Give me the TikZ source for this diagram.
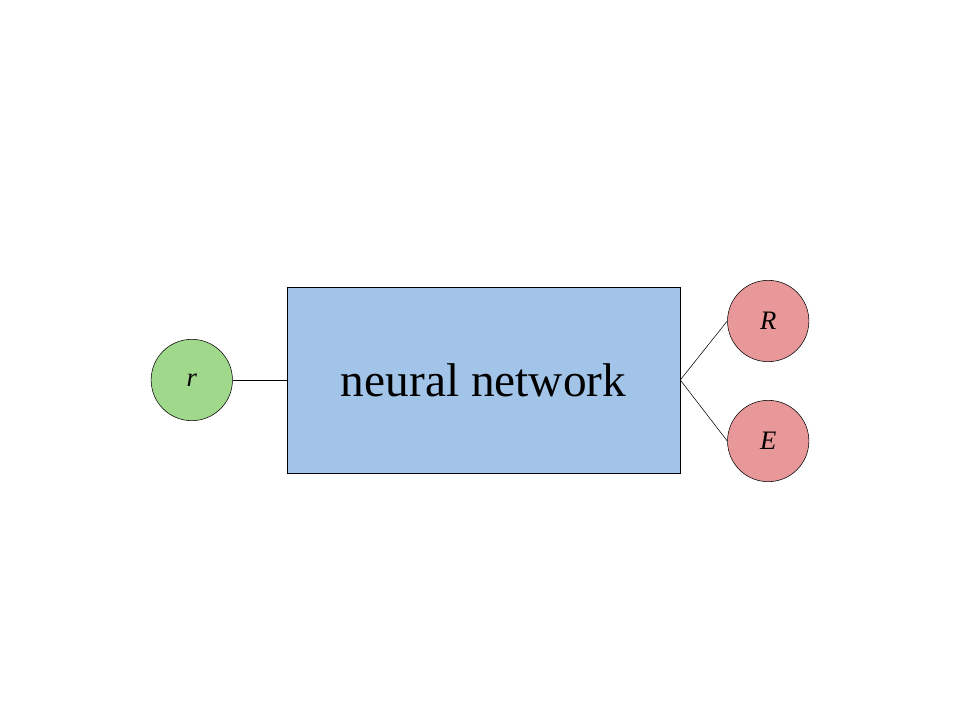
\documentclass[tikz,border=0pt]{standalone}
\usepackage{fontspec}
\setmainfont{Liberation Serif}
\usetikzlibrary{positioning}
\definecolor{nnblue}{RGB}{161,196,232}
\definecolor{ingreen}{RGB}{161,217,140}
\definecolor{outred}{RGB}{232,152,152}
\begin{document}
\begin{tikzpicture}[x=0.75pt,y=-0.75pt,
		net/.style={draw, fill=nnblue, minimum width=294.75pt, minimum height=139.5pt, inner sep=0pt, font=\fontsize{35.5}{40}\selectfont},
		var/.style={draw, circle, minimum size=61pt, inner sep=0pt, font=\fontsize{20}{24}\selectfont\itshape}]
		\useasboundingbox (0,0) rectangle (960,720);
		\node (nn) [net] at (483.5,380) {neural network};
		\node (r) [var, fill=ingreen, left=40.5pt of nn] {r};
		\node (R) [var, fill=outred, right=35.25pt of nn.east, yshift=44.25pt] {R};
		\node (E) [var, fill=outred, right=35.25pt of nn.east, yshift=-45.75pt] {E};
		\draw (r) -- (nn);
		\draw (nn.east) -- (R.west);
		\draw (nn.east) -- (E.west);
		\end{tikzpicture}
\end{document}
